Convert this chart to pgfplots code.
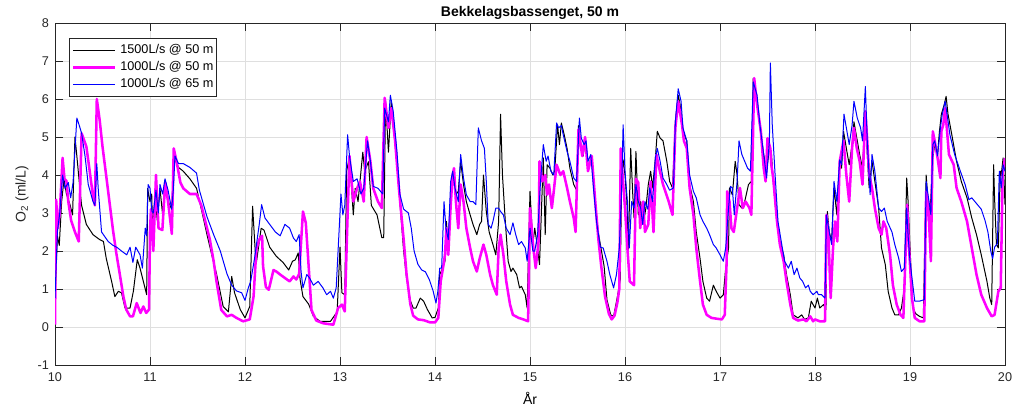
\documentclass[border=0pt]{standalone}
\usepackage{fontspec}
\setmainfont{Liberation Sans}
\usepackage{pgfplots}
\pgfplotsset{compat=1.18}
\usetikzlibrary{calc}
\definecolor{axgray}{RGB}{38,38,38}
\definecolor{gridgray}{RGB}{223,223,223}
\definecolor{mmag}{RGB}{255,0,255}
\definecolor{mblue}{RGB}{0,0,255}
\begin{document}
\begin{tikzpicture}
\path[use as bounding box] (-41.25pt,-34.5pt) rectangle (726.75pt,273.75pt);
\begin{axis}[
  name=ax, at={(0,0)}, anchor=south west,
  scale only axis, width=712.5pt, height=256.5pt,
  xmin=10, xmax=20, ymin=-1, ymax=8,
  xtick={10,11,...,20}, ytick={-1,0,...,8},
  tick align=inside, major tick length=6pt,
  xtick pos=both, ytick pos=both,
  axis line style={axgray, line width=0.6pt},
  tick style={axgray, line width=0.6pt},
  grid=major, major grid style={gridgray, line width=0.5pt},
  tick label style={font=\fontsize{9.5}{11}\selectfont, text=axgray},
  /pgf/number format/assume math mode=true,
  xticklabel style={yshift=-2pt},
  yticklabel style={xshift=-1pt},
  xlabel={År},
  xlabel style={font=\fontsize{10.5}{12}\selectfont, at={(axis description cs:0.5,0)}, anchor=center, yshift=-24.75pt},
  legend style={at={(0.0147,0.956)}, anchor=north west, draw=axgray, line width=0.5pt, fill=white,
    font=\fontsize{9.5}{11}\selectfont, inner xsep=2pt, inner ysep=2.5pt,
    nodes={inner sep=0.4pt, text height=8.5pt, text depth=3.5pt},
    cells={anchor=west}},
  legend image code/.code={\draw[#1] (0pt,0pt) -- (31.5pt,0pt); \path (34pt,0pt);},
  legend cell align=left,
]
% 1500 L/s @ 50 m
\addplot[black, line width=0.75pt, line join=round] table {
10.00 0.68
10.025 2.4
10.045 2.15
10.07 3.3
10.095 3.9
10.12 3.5
10.16 3.2
10.185 2.95
10.21 5.0
10.23 4.5
10.256 3.8
10.28 3.2
10.33 2.7
10.40 2.43
10.47 2.3
10.51 2.25
10.54 1.8
10.596 1.2
10.63 0.8
10.667 0.94
10.70 0.9
10.737 0.5
10.79 0.5
10.825 0.94
10.866 1.77
10.895 1.55
10.93 1.2
10.965 0.85
10.975 3.65
11.0 3.3
11.018 3.5
11.028 2.5
11.053 3.4
11.077 2.8
11.105 3.65
11.133 2.95
11.158 3.85
11.193 3.3
11.228 3.1
11.253 4.45
11.30 4.2
11.35 4.1
11.42 3.9
11.49 3.65
11.545 3.05
11.60 2.43
11.65 1.9
11.70 1.4
11.77 0.54
11.825 0.4
11.86 1.33
11.89 0.9
11.95 0.46
12.0 0.24
12.05 0.54
12.08 3.18
12.11 1.9
12.12 1.7
12.17 2.6
12.20 2.55
12.26 2.1
12.33 1.86
12.40 1.7
12.46 1.5
12.50 1.73
12.53 1.77
12.56 1.95
12.58 1.25
12.61 0.8
12.67 0.6
12.72 0.28
12.79 0.15
12.90 0.15
12.97 0.4
13.0 2.1
13.02 0.9
13.05 0.85
13.07 4.1
13.10 4.5
13.14 2.95
13.16 3.65
13.19 3.3
13.24 4.6
13.26 4.1
13.30 4.35
13.33 3.2
13.39 2.95
13.44 2.35
13.46 2.35
13.48 5.95
13.51 4.6
13.54 5.95
13.56 5.3
13.60 4.3
13.63 3.3
13.67 2.0
13.70 1.3
13.74 0.7
13.77 0.5
13.80 0.5
13.845 0.76
13.88 0.68
13.92 0.46
13.97 0.24
14.0 0.25
14.035 0.5
14.05 1.38
14.08 1.55
14.105 1.73
14.12 2.78
14.14 2.08
14.165 3.3
14.19 4.0
14.22 3.48
14.245 3.57
14.27 4.36
14.30 3.75
14.33 3.3
14.37 2.95
14.40 2.7
14.44 2.43
14.47 2.7
14.49 2.78
14.51 4.0
14.54 3.04
14.57 2.5
14.61 2.17
14.64 1.9
14.67 2.78
14.69 5.6
14.71 4.0
14.74 2.78
14.77 1.73
14.80 1.46
14.82 1.55
14.86 1.38
14.89 1.03
14.91 1.07
14.95 0.85
14.97 0.5
15.0 3.57
15.03 2.17
15.05 2.6
15.08 2.08
15.10 1.64
15.12 3.04
15.14 4.45
15.16 2.43
15.18 4.27
15.21 4.18
15.24 4.0
15.26 4.1
15.29 5.32
15.31 4.8
15.33 5.37
15.36 5.06
15.39 4.7
15.42 4.18
15.46 3.75
15.49 3.6
15.51 5.3
15.53 4.9
15.56 4.5
15.58 4.9
15.61 4.2
15.65 4.5
15.69 3.18
15.72 2.47
15.78 1.6
15.81 0.72
15.85 0.32
15.88 0.28
15.92 0.8
15.95 1.25
15.965 3.9
15.98 4.4
16.0 4.0
16.02 3.3
16.035 2.0
16.06 4.7
16.08 3.57
16.095 2.87
16.115 4.62
16.14 2.95
16.165 3.3
16.19 2.7
16.22 3.13
16.245 3.75
16.27 4.1
16.29 3.66
16.32 4.45
16.34 5.15
16.37 4.97
16.40 4.9
16.44 4.36
16.47 3.83
16.50 3.66
16.53 5.4
16.56 6.1
16.58 5.85
16.61 5.15
16.65 4.9
16.68 3.75
16.72 3.3
16.75 2.5
16.79 1.8
16.82 1.2
16.86 0.76
16.89 0.68
16.93 1.1
16.96 0.94
17.0 0.76
17.035 0.85
17.06 1.55
17.09 2.08
17.10 3.66
17.13 3.48
17.16 4.36
17.18 4.0
17.20 3.22
17.23 3.13
17.26 3.3
17.30 3.75
17.33 3.83
17.35 6.55
17.39 5.94
17.42 5.24
17.46 4.54
17.49 4.1
17.52 4.7
17.54 4.62
17.56 3.83
17.60 2.7
17.63 2.25
17.67 1.9
17.70 1.38
17.74 0.85
17.77 0.32
17.82 0.24
17.86 0.32
17.89 0.2
17.93 0.24
17.96 0.68
18.0 0.5
18.025 0.76
18.05 0.5
18.09 0.59
18.115 0.46
18.13 3.04
18.15 2.5
18.175 2.25
18.20 3.66
18.23 2.95
18.26 4.45
18.28 4.18
18.30 5.15
18.33 4.7
18.36 4.27
18.39 4.8
18.41 5.4
18.44 4.97
18.47 4.54
18.50 4.18
18.53 5.6
18.55 4.54
18.57 3.66
18.60 4.36
18.63 3.83
18.67 3.13
18.70 2.08
18.74 1.64
18.77 0.94
18.81 0.5
18.84 0.32
18.88 0.32
18.91 0.5
18.94 1.03
18.965 3.92
18.98 3.3
19.0 2.08
19.03 0.5
19.06 0.35
19.10 0.28
19.14 0.24
19.17 4.0
19.19 3.3
19.21 2.95
19.24 4.45
19.26 4.8
19.29 4.54
19.31 5.15
19.33 5.6
19.36 5.85
19.38 6.07
19.40 5.6
19.44 5.06
19.49 4.36
19.54 3.83
19.60 3.4
19.65 2.87
19.70 2.43
19.75 1.9
19.81 1.2
19.84 0.76
19.86 0.59
19.88 4.27
19.89 3.4
19.91 2.17
19.93 2.08
19.95 4.1
19.96 4.0
19.98 4.45
20.0 3.22
};
\addlegendentry{1500L/s @ 50 m}
% 1000 L/s @ 50 m
\addplot[mmag, line width=1.9pt, line join=round] table {
10.00 0.06
10.012 3.35
10.03 2.6
10.05 3.0
10.08 4.45
10.10 3.9
10.12 3.85
10.14 3.3
10.17 2.8
10.21 2.5
10.25 2.25
10.28 5.1
10.33 4.75
10.36 4.2
10.40 3.44
10.42 3.2
10.44 6.0
10.47 5.45
10.50 4.75
10.54 3.96
10.575 3.26
10.61 2.56
10.645 1.95
10.68 1.42
10.72 0.8
10.75 0.46
10.79 0.28
10.82 0.28
10.86 0.63
10.90 0.37
10.93 0.54
10.96 0.37
10.99 0.46
11.0 2.5
11.01 3.1
11.035 2.0
11.063 4.0
11.09 2.6
11.13 2.55
11.16 3.8
11.19 3.3
11.23 2.45
11.25 4.7
11.28 4.35
11.32 3.8
11.35 3.65
11.42 3.5
11.49 3.5
11.54 3.2
11.60 2.6
11.63 2.3
11.67 1.73
11.70 1.2
11.75 0.45
11.81 0.28
11.86 0.32
11.91 0.24
11.98 0.15
12.05 0.2
12.09 0.8
12.12 2.05
12.15 2.3
12.18 2.4
12.19 1.6
12.22 1.05
12.25 0.98
12.30 1.5
12.33 1.46
12.37 1.38
12.42 1.29
12.47 1.2
12.51 1.33
12.54 1.25
12.57 1.4
12.61 3.04
12.64 2.74
12.67 1.6
12.70 0.45
12.75 0.17
12.82 0.1
12.93 0.06
12.98 0.5
13.02 0.59
13.05 0.41
13.08 2.95
13.10 4.5
13.14 3.3
13.18 3.65
13.21 3.83
13.25 3.3
13.28 5.0
13.32 4.36
13.35 3.65
13.40 3.3
13.44 3.13
13.47 6.03
13.51 5.24
13.54 5.76
13.58 4.9
13.62 3.65
13.67 2.3
13.70 1.4
13.74 0.6
13.77 0.3
13.82 0.2
13.88 0.18
13.95 0.12
14.0 0.12
14.035 0.24
14.06 1.2
14.09 1.64
14.105 1.9
14.12 2.6
14.14 1.9
14.165 3.2
14.186 4.0
14.20 4.18
14.22 3.3
14.245 2.6
14.27 3.75
14.30 3.3
14.33 2.6
14.37 2.08
14.40 1.73
14.44 1.46
14.47 1.8
14.51 2.17
14.54 1.9
14.58 1.38
14.61 1.1
14.65 0.85
14.67 2.08
14.69 2.43
14.72 1.9
14.75 1.2
14.79 0.59
14.82 0.32
14.88 0.24
14.93 0.2
14.98 0.15
15.0 3.13
15.035 2.08
15.06 1.55
15.09 2.25
15.10 4.36
15.13 3.83
15.16 4.0
15.18 3.48
15.20 3.75
15.23 3.13
15.25 3.57
15.28 4.27
15.32 4.0
15.35 4.1
15.39 3.66
15.42 3.3
15.46 2.87
15.48 2.5
15.51 5.2
15.55 4.5
15.58 5.0
15.61 4.1
15.65 4.5
15.69 3.2
15.72 2.3
15.75 1.6
15.79 0.8
15.83 0.35
15.86 0.2
15.89 0.3
15.92 0.65
15.94 1.0
15.955 4.7
15.98 3.8
16.0 3.13
16.025 2.08
16.05 1.2
16.095 1.1
16.115 3.9
16.14 3.8
16.16 2.6
16.19 3.3
16.21 2.5
16.245 2.7
16.27 3.83
16.30 2.5
16.33 4.54
16.36 4.18
16.40 3.75
16.46 3.3
16.50 2.95
16.53 5.24
16.56 5.94
16.60 5.32
16.62 4.9
16.65 4.7
16.68 3.66
16.72 2.95
16.75 2.08
16.79 1.2
16.82 0.59
16.86 0.32
16.91 0.24
16.96 0.22
17.02 0.2
17.05 0.32
17.07 1.73
17.075 3.57
17.10 3.3
17.12 2.6
17.145 2.5
17.17 2.95
17.19 3.3
17.21 3.66
17.24 3.13
17.27 3.3
17.31 3.13
17.33 2.95
17.36 6.55
17.39 5.85
17.43 5.15
17.46 4.18
17.48 3.83
17.50 4.97
17.53 4.7
17.54 4.27
17.56 3.92
17.60 2.78
17.63 2.17
17.67 1.73
17.70 1.2
17.74 0.59
17.77 0.24
17.82 0.17
17.88 0.2
17.91 0.15
17.95 0.28
17.98 0.15
18.0 0.2
18.05 0.15
18.105 0.15
18.12 2.95
18.14 2.5
18.165 0.76
18.19 2.08
18.21 2.78
18.235 2.25
18.26 4.36
18.30 4.9
18.33 4.0
18.36 3.3
18.39 4.7
18.41 5.24
18.44 4.7
18.47 4.36
18.50 3.75
18.53 5.68
18.55 4.9
18.57 4.0
18.60 3.66
18.63 3.13
18.67 2.6
18.70 2.43
18.72 2.78
18.75 2.6
18.79 1.9
18.82 1.1
18.86 0.59
18.90 0.32
18.93 0.24
18.96 2.43
18.97 3.22
18.99 2.08
19.02 0.76
19.05 0.24
19.10 0.15
19.15 0.15
19.17 3.57
19.19 3.3
19.22 1.73
19.24 5.15
19.26 4.9
19.29 4.45
19.32 3.92
19.33 5.15
19.35 5.32
19.37 5.76
19.41 4.54
19.46 4.27
19.49 3.66
19.54 3.3
19.60 2.78
19.65 2.08
19.70 1.38
19.75 0.85
19.81 0.5
19.86 0.28
19.89 0.32
19.93 0.94
19.955 1.03
19.975 4.0
20.0 4.45
};
\addlegendentry{1000L/s @ 50 m}
% 1000 L/s @ 65 m
\addplot[mblue, line width=0.75pt, line join=round] table {
10.00 0.76
10.025 2.5
10.05 3.0
10.08 4.0
10.105 3.65
10.14 3.8
10.165 3.4
10.19 3.8
10.23 5.5
10.256 5.3
10.28 5.1
10.316 4.5
10.35 3.75
10.40 3.3
10.42 3.2
10.44 4.3
10.456 3.6
10.49 2.5
10.56 2.25
10.61 2.15
10.65 2.1
10.70 2.0
10.755 1.9
10.79 2.1
10.82 1.7
10.85 2.1
10.895 1.9
10.92 1.55
10.95 2.6
10.965 2.4
10.98 3.75
11.0 3.65
11.02 3.05
11.035 3.0
11.063 3.6
11.088 3.0
11.105 3.75
11.133 3.5
11.158 3.9
11.19 3.6
11.228 3.1
11.245 3.6
11.263 4.5
11.30 4.3
11.35 4.3
11.42 4.2
11.49 4.05
11.52 3.6
11.56 3.25
11.60 2.9
11.67 2.43
11.74 2.0
11.81 1.4
11.86 1.1
11.91 0.95
11.965 0.9
12.0 0.7
12.035 1.03
12.06 1.2
12.10 1.8
12.15 2.7
12.175 3.22
12.21 2.87
12.26 2.7
12.32 2.5
12.37 2.4
12.42 2.7
12.47 2.6
12.51 2.34
12.54 2.25
12.57 2.43
12.59 1.46
12.61 1.03
12.65 1.38
12.68 1.29
12.72 1.1
12.77 1.2
12.82 1.03
12.86 0.85
12.90 0.94
12.93 0.76
12.96 1.03
13.01 3.5
13.03 2.95
13.05 3.2
13.08 5.06
13.10 4.5
13.14 3.83
13.18 3.9
13.22 3.5
13.25 3.65
13.29 4.9
13.32 4.36
13.35 3.7
13.40 3.65
13.45 3.5
13.47 5.76
13.51 5.4
13.53 6.1
13.56 5.68
13.60 4.6
13.63 3.5
13.67 3.1
13.72 3.0
13.75 2.6
13.78 2.0
13.82 1.65
13.86 1.5
13.90 1.45
13.94 1.25
13.98 0.95
14.01 0.63
14.03 0.94
14.05 1.55
14.07 1.55
14.095 3.3
14.115 2.6
14.14 2.3
14.165 3.83
14.186 4.1
14.21 3.66
14.245 3.3
14.27 4.54
14.30 3.92
14.33 3.48
14.37 3.3
14.40 3.3
14.43 3.22
14.456 5.24
14.49 4.9
14.52 4.7
14.54 3.83
14.56 2.7
14.59 2.6
14.61 2.78
14.64 3.13
14.67 3.13
14.69 3.04
14.72 2.95
14.75 2.6
14.79 2.43
14.82 2.74
14.85 2.43
14.88 2.17
14.91 2.25
14.95 2.08
14.97 1.73
15.0 2.6
15.03 2.0
15.05 2.0
15.08 2.43
15.11 3.8
15.14 4.8
15.17 4.36
15.19 4.5
15.22 4.1
15.25 4.0
15.28 5.37
15.30 5.24
15.33 5.3
15.35 5.06
15.39 4.62
15.42 4.36
15.46 3.92
15.49 3.83
15.52 5.5
15.54 4.97
15.57 4.8
15.59 4.9
15.61 4.36
15.64 4.54
15.67 3.6
15.70 2.78
15.74 2.1
15.77 2.08
15.81 1.73
15.84 1.38
15.88 1.03
15.91 1.38
15.94 2.08
15.965 3.66
15.98 5.32
16.0 4.1
16.025 3.3
16.045 2.08
16.07 3.3
16.095 3.13
16.115 3.75
16.14 3.3
16.165 3.13
16.186 2.7
16.21 3.3
16.24 3.1
16.26 3.66
16.29 3.3
16.32 4.45
16.34 4.7
16.37 4.36
16.40 3.92
16.44 3.75
16.47 3.6
16.51 3.66
16.53 5.4
16.56 6.27
16.59 5.94
16.61 5.24
16.65 4.9
16.68 4.0
16.72 3.57
16.75 3.4
16.79 2.95
16.82 2.78
16.86 2.6
16.89 2.43
16.93 2.17
16.96 2.08
17.0 1.9
17.035 1.73
17.06 2.08
17.09 3.13
17.11 3.7
17.13 3.66
17.15 2.95
17.18 3.83
17.20 4.9
17.23 4.54
17.26 4.36
17.29 4.18
17.32 4.1
17.35 6.45
17.39 6.1
17.42 5.32
17.46 4.54
17.49 3.92
17.52 4.9
17.53 6.95
17.55 5.32
17.58 4.0
17.61 2.78
17.65 2.17
17.68 1.73
17.72 1.55
17.75 1.73
17.78 1.38
17.81 1.55
17.84 1.29
17.87 1.2
17.90 1.03
17.93 1.1
17.95 0.94
17.98 0.85
18.02 0.94
18.035 0.85
18.07 0.85
18.105 0.76
18.12 2.95
18.15 2.5
18.175 2.17
18.20 3.83
18.23 3.3
18.26 4.4
18.28 4.27
18.305 5.6
18.33 5.24
18.36 4.8
18.39 5.3
18.41 5.94
18.445 5.5
18.48 5.24
18.50 4.9
18.53 6.33
18.55 4.9
18.58 3.48
18.60 4.54
18.63 4.1
18.67 3.13
18.70 3.04
18.73 3.13
18.76 2.78
18.81 2.5
18.84 2.17
18.88 1.82
18.91 1.46
18.94 1.55
18.965 3.13
18.98 2.4
19.0 1.73
19.03 1.1
19.05 0.68
19.10 0.68
19.15 0.72
19.17 3.83
19.19 3.48
19.22 2.95
19.24 4.8
19.26 4.9
19.29 4.5
19.32 5.24
19.34 5.6
19.37 5.94
19.39 5.6
19.42 5.06
19.47 4.54
19.53 4.1
19.58 3.75
19.62 3.35
19.65 3.4
19.70 3.25
19.75 3.1
19.79 2.8
19.82 2.5
19.85 2.0
19.87 1.8
19.89 2.1
19.92 2.2
19.94 4.1
19.96 3.66
19.98 4.27
20.0 4.1
};
\addlegendentry{1000L/s @ 65 m}
\end{axis}
\node[anchor=base, font=\bfseries\fontsize{10.5}{12}\selectfont, text=black] at ([yshift=5.25pt]ax.north) {Bekkelagsbassenget, 50 m};
\node[rotate=90, anchor=center, font=\fontsize{10.5}{12}\selectfont, text=axgray] at ([xshift=-24.75pt]ax.west) {O\textsubscript{2} (ml/L)};
\end{tikzpicture}
\end{document}
